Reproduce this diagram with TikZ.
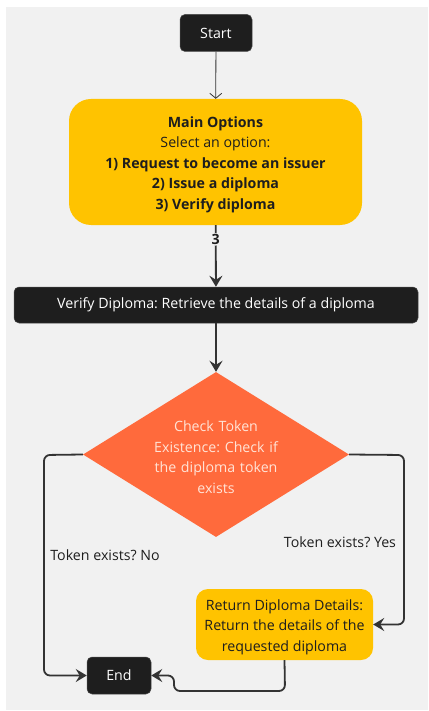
\documentclass[tikz,border=0pt]{standalone}
\usepackage{fontspec}
\setmainfont{Open Sans}
\usetikzlibrary{shapes.geometric,arrows.meta}
\definecolor{bg}{HTML}{F1F1F1}
\definecolor{dark}{HTML}{1E1E1E}
\definecolor{amber}{HTML}{FFC300}
\definecolor{coral}{HTML}{FF6A3C}
\definecolor{peach}{HTML}{FFE3D6}
\definecolor{linec}{HTML}{333333}
\frenchspacing
\newcommand{\topstrut}{\rule{0pt}{16pt}}
\tikzset{
  term/.style={draw=dark!80, line width=0.5pt, fill=dark, rounded corners=5pt, text=white, inner sep=0pt, font=\fontsize{14.2}{17}\selectfont},
  optbox/.style={fill=amber, rounded corners=22pt, inner sep=0pt, text=dark, align=center, font=\fontsize{14.2}{20.5}\selectfont},
  retbox/.style={fill=amber, rounded corners=12pt, inner sep=0pt, text=dark, align=center, font=\fontsize{14.2}{20.5}\selectfont},
  diabox/.style={diamond, fill=coral, inner sep=0pt, text=peach, align=center, text width=140pt, aspect=1.61, minimum width=266pt, minimum height=165pt, font=\fontsize{14.2}{20.5}\selectfont},
  thinedge/.style={draw=linec, line width=0.8pt, -{Straight Barb[length=5pt,width=12pt]}},
  edge/.style={draw=linec, line width=1.8pt, rounded corners=6pt, -{Stealth[length=11pt,width=13pt,inset=4pt]}},
  lbl/.style={text=dark, font=\fontsize{14.2}{17}\selectfont, inner sep=1pt},
}
\begin{document}
\begin{tikzpicture}[x=1pt,y=-1pt]
\useasboundingbox (0,0) rectangle (428,711);
\fill[bg] (6,7) rectangle (428,710);
\node[term, minimum width=72pt, minimum height=37pt] (start) at (216,33) {Start};
\node[optbox, minimum width=293pt, minimum height=126pt] (main) at (215.5,162) {\topstrut\textbf{Main Options}\\Select an option:\\\textbf{1) Request to become an issuer}\\\textbf{2) Issue a diploma}\\\textbf{3) Verify diploma}};
\node[term, minimum width=404pt, minimum height=36pt] (verify) at (216,305) {Verify Diploma: Retrieve the details of a diploma};
\node[diabox] (check) at (216,454.5) {\topstrut Check Token\\Existence: Check if\\the diploma token\\exists};
\node[retbox, minimum width=177pt, minimum height=71pt] (ret) at (284.5,624.5) {\topstrut Return Diploma Details:\\Return the details of the\\requested diploma};
\node[term, minimum width=64pt, minimum height=37pt] (end) at (119,675.5) {End};

\draw[thinedge] (start) -- (main);
\draw[edge] (main) -- node[pos=0.23, fill=bg, lbl, font=\fontsize{14.2}{17}\selectfont\bfseries] (l3) {3} (verify);
\draw[edge] (verify) -- (check);
\draw[edge] (check.west) -- (44,455) -- (44,675.5) -- (end.west)
  node[lbl] (lno) at (105,555) {Token exists? No};
\draw[edge] (check.east) -- (404,455) -- (404,624.5) -- (ret.east)
  node[lbl] (lyes) at (340,542) {Token exists? Yes};
\draw[edge] (ret.south) -- (285,691) -- (174,691) -- (174,675.5) -- (end.east);
\end{tikzpicture}
\end{document}
